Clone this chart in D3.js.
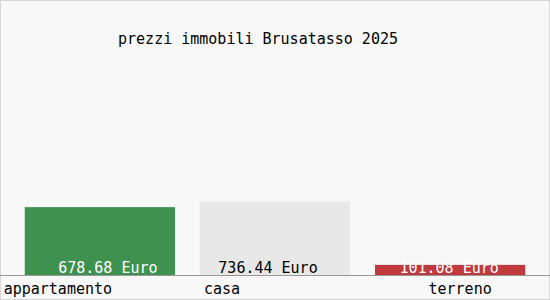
<!DOCTYPE html>
<html>
<head>
<meta charset="utf-8">
<script src="https://cdn.jsdelivr.net/npm/d3@7"></script>
<style>
  body { margin: 0; background: #fff; }
  svg text { font-family: "DejaVu Sans Mono", monospace; font-size: 15px; }
</style>
</head>
<body>
<div id="chart"></div>
<script>
var categories = ['appartamento', 'casa', 'terreno'];
var prices = [678.68, 736.44, 101.08];
var barColors = ['#3f9150', '#e8e8e8', '#c0393f'];
var labelColors = ['#ffffff', '#000000', '#ffffff'];
var title = 'prezzi immobili Brusatasso 2025';

var width = 550, height = 300;
var baseY = 275;

var svg = d3.select('#chart').append('svg')
  .attr('width', width)
  .attr('height', height);

svg.append('rect')
  .attr('x', 0.5).attr('y', 0.5)
  .attr('width', width - 1).attr('height', height - 1)
  .attr('fill', '#f8f8f8')
  .attr('stroke', '#d6d6d6');

var x = d3.scaleBand()
  .domain(categories)
  .range([12.5, 537.5])
  .paddingInner(0.142)
  .paddingOuter(0.07);

var y = d3.scaleLinear()
  .domain([0, 2750])
  .range([baseY, 0]);

svg.append('text')
  .attr('x', 258)
  .attr('y', 44)
  .attr('text-anchor', 'middle')
  .attr('fill', '#000')
  .text(title);

var bars = svg.selectAll('g.bar')
  .data(categories)
  .enter()
  .append('g')
  .attr('class', 'bar');

bars.append('rect')
  .attr('x', function(d) { return x(d); })
  .attr('y', function(d, i) { return y(prices[i]); })
  .attr('width', x.bandwidth())
  .attr('height', function(d, i) { return baseY - y(prices[i]); })
  .attr('fill', function(d, i) { return barColors[i]; });

// value labels sit inside the bar, near the baseline
var valueShift = [8, -7, -1];
bars.append('text')
  .attr('x', function(d, i) { return x(d) + x.bandwidth() / 2 + valueShift[i]; })
  .attr('y', baseY - 2)
  .attr('text-anchor', 'middle')
  .attr('fill', function(d, i) { return labelColors[i]; })
  .text(function(d, i) { return d3.format('.2f')(prices[i]) + ' Euro'; });

svg.append('line')
  .attr('x1', 0).attr('x2', width)
  .attr('y1', baseY + 0.5).attr('y2', baseY + 0.5)
  .attr('stroke', '#999');

// category labels under the baseline
var labelShift = [-42, -53, 10];
bars.append('text')
  .attr('x', function(d, i) { return x(d) + x.bandwidth() / 2 + labelShift[i]; })
  .attr('y', 294)
  .attr('text-anchor', 'middle')
  .attr('fill', '#000')
  .text(function(d) { return d; });
</script>
</body>
</html>
